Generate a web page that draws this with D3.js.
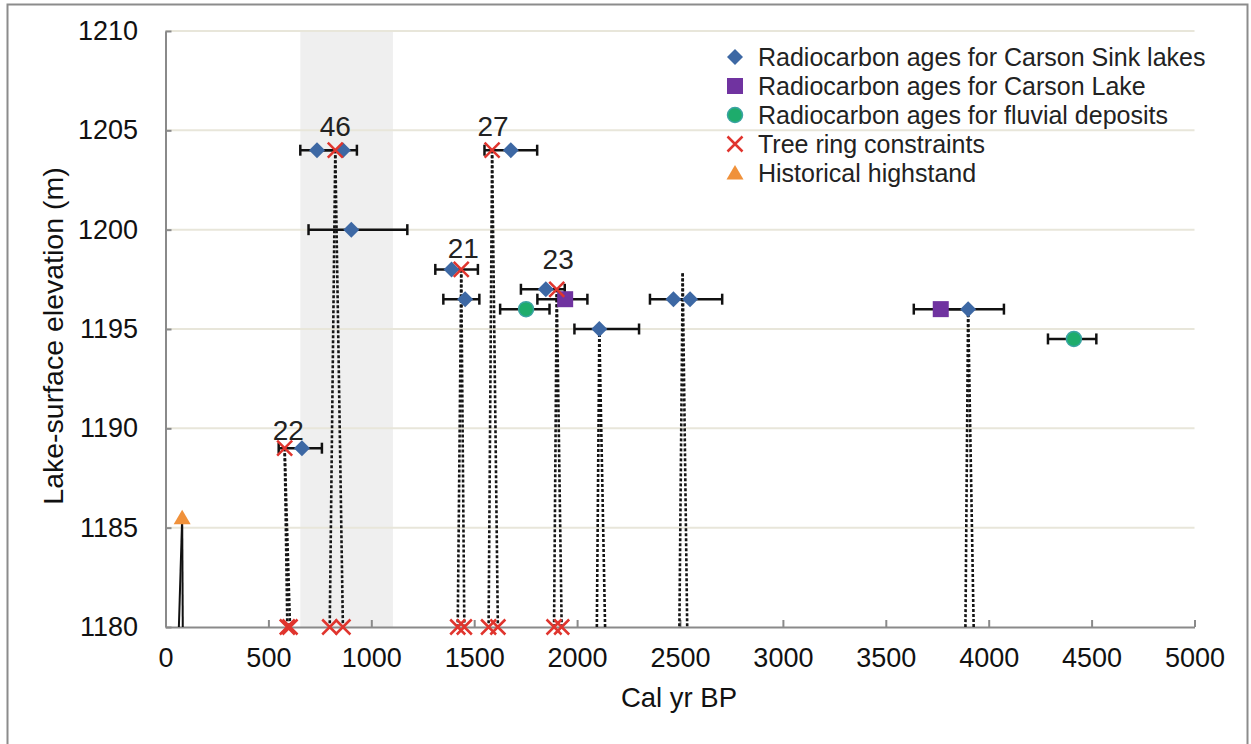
<!DOCTYPE html>
<html>
<head>
<meta charset="utf-8">
<script src="https://cdn.jsdelivr.net/npm/d3@7"></script>
<style>
  html, body { margin: 0; padding: 0; background: #fff; }
  svg { display: block; font-family: "Liberation Sans", Arial, sans-serif; }
</style>
</head>
<body>
<svg id="chart" width="1251" height="744"></svg>
<script>
// ---------------- data ----------------
const xTicks = [0, 500, 1000, 1500, 2000, 2500, 3000, 3500, 4000, 4500, 5000];
const yTicks = [1180, 1185, 1190, 1195, 1200, 1205, 1210];

// shaded interval (cal yr BP)
const bandRange = [655, 1105];

// Radiocarbon ages for Carson Sink lakes
const sinkAge  = [736, 862, 903, 663, 1390, 1456, 1678, 1848, 2108, 2468, 2549, 3900];
const sinkElev = [1204, 1204, 1200, 1189, 1198, 1196.5, 1204, 1197, 1195, 1196.5, 1196.5, 1196];
const sinkLow  = [655, 736, 695, 550, 1311, 1350, 1550, 1727, 1987, 2354, 2468, 3767];
const sinkHigh = [862, 930, 1175, 760, 1518, 1525, 1806, 1940, 2301, 2549, 2705, 4074];

// Radiocarbon ages for Carson Lake
const lakeAge  = [1942, 3767];
const lakeElev = [1196.5, 1196];
const lakeLow  = [1807, 3636];
const lakeHigh = [2050, 3900];

// Radiocarbon ages for fluvial deposits
const fluvAge  = [1752, 4414];
const fluvElev = [1196, 1194.5];
const fluvLow  = [1626, 4288];
const fluvHigh = [1866, 4523];

// Tree ring constraints (upper) and at 1180 m
const treeAge  = [579, 825, 1437, 1587, 1901];
const treeElev = [1189, 1204, 1198, 1204, 1197];
const treeBaseAge = [592, 605, 798, 862, 1420, 1452, 1570, 1615, 1888, 1925];
const baseElev = 1180;

// Dotted connection lines: top point -> two points at 1180 m
const linkTopAge  = [579, 825, 1437, 1587, 1901, 2108, 2513, 3900];
const linkTopElev = [1189, 1204, 1198, 1204, 1197, 1195, 1197.8, 1196];
const linkBotA    = [592, 798, 1420, 1570, 1888, 2096, 2497, 3887];
const linkBotB    = [605, 862, 1452, 1615, 1925, 2136, 2535, 3927];

// Historical highstand
const histAge = [81];
const histElev = [1185.5];
const histBotA = [65];
const histBotB = [84];

// Annotation labels
const labelText = ["46", "27", "21", "23", "22"];
const labelAge  = [825, 1592, 1447, 1908, 597];
const labelElev = [1205.2, 1205.2, 1199.1, 1198.5, 1189.9];

const legendLabels = [
  "Radiocarbon ages for Carson Sink lakes",
  "Radiocarbon ages for Carson Lake",
  "Radiocarbon ages for fluvial deposits",
  "Tree ring constraints",
  "Historical highstand"
];
const legendKinds = ["diamond", "square", "circle", "x", "triangle"];

// ---------------- drawing ----------------
const svg = d3.select("#chart");
const C = {
  diamond: "#3d68a4", square: "#7033a0", circle: "#1eac6c", circleStroke: "#3ba3a3",
  x: "#e0352e", triangle: "#f0913a", grid: "#e8e6da", axis: "#8a8a8a", band: "#efefef"
};

const x = d3.scaleLinear().domain([0, 5000]).range([165.5, 1194.5]);
const y = d3.scaleLinear().domain([1180, 1210]).range([627, 31]);

// outer frame
svg.append("rect").attr("x", 7.5).attr("y", 4.5).attr("width", 1240).attr("height", 780)
  .attr("fill", "none").attr("stroke", "#8c8c8c").attr("stroke-width", 2);

// band
svg.append("rect")
  .attr("x", x(bandRange[0])).attr("y", y(1210))
  .attr("width", x(bandRange[1]) - x(bandRange[0]))
  .attr("height", y(1180) - y(1210))
  .attr("fill", C.band);

// gridlines
svg.append("g").selectAll("line").data(yTicks.filter(d => d !== 1180)).join("line")
  .attr("x1", x(0)).attr("x2", x(5000))
  .attr("y1", d => y(d)).attr("y2", d => y(d))
  .attr("stroke", C.grid).attr("stroke-width", 2);

// axes
const xAxis = d3.axisBottom(x).tickValues(xTicks).tickFormat(d3.format("d"))
  .tickSizeInner(-7).tickSizeOuter(0).tickPadding(21);
const gx = svg.append("g").attr("transform", `translate(0,${y(1180)})`).call(xAxis);
const yAxis = d3.axisLeft(y).tickValues(yTicks).tickFormat(d3.format("d"))
  .tickSizeInner(-6).tickSizeOuter(0).tickPadding(27.5);
const gy = svg.append("g").attr("transform", `translate(${x(0)},0)`).call(yAxis);
[gx, gy].forEach(g => {
  g.select(".domain").attr("stroke", C.axis).attr("stroke-width", 2);
  g.selectAll(".tick line").attr("stroke", C.axis).attr("stroke-width", 2);
  g.selectAll(".tick text").attr("fill", "#111").attr("font-size", 27)
    .attr("font-family", "Liberation Sans, Arial, sans-serif");
});

// axis titles
svg.append("text").attr("x", 679).attr("y", 707).attr("text-anchor", "middle")
  .attr("font-size", 27.5).attr("fill", "#111").text("Cal yr BP");
svg.append("text").attr("transform", `translate(63,${(y(1180) + y(1210)) / 2 + 7}) rotate(-90)`)
  .attr("text-anchor", "middle").attr("font-size", 28.5).attr("fill", "#111")
  .text("Lake-surface elevation (m)");

// dotted connection lines
const links = svg.append("g").attr("fill", "none").attr("stroke", "#151515")
  .attr("stroke-width", 2.6).attr("stroke-dasharray", "3,2");
linkTopAge.forEach((a, i) => {
  [linkBotA[i], linkBotB[i]].forEach(b => {
    links.append("line")
      .attr("x1", x(a)).attr("y1", y(linkTopElev[i]))
      .attr("x2", x(b)).attr("y2", y(baseElev));
  });
});

// historical lines (solid)
histAge.forEach((a, i) => {
  [histBotA[i], histBotB[i]].forEach(b => {
    svg.append("line").attr("x1", x(a)).attr("y1", y(histElev[i]))
      .attr("x2", x(b)).attr("y2", y(baseElev))
      .attr("stroke", "#111").attr("stroke-width", 2);
  });
});

// error bars
function errorBars(lo, hi, el) {
  const g = svg.append("g").attr("stroke", "#111").attr("stroke-width", 2.5);
  lo.forEach((l, i) => {
    const yy = y(el[i]);
    g.append("line").attr("x1", x(l)).attr("x2", x(hi[i])).attr("y1", yy).attr("y2", yy);
    g.append("line").attr("x1", x(l)).attr("x2", x(l)).attr("y1", yy - 5.5).attr("y2", yy + 5.5);
    g.append("line").attr("x1", x(hi[i])).attr("x2", x(hi[i])).attr("y1", yy - 5.5).attr("y2", yy + 5.5);
  });
}
errorBars(sinkLow, sinkHigh, sinkElev);
errorBars(lakeLow, lakeHigh, lakeElev);
errorBars(fluvLow, fluvHigh, fluvElev);

// marker drawing helpers
function drawMarker(g, kind, cx, cy) {
  if (kind === "diamond") {
    g.append("path").attr("d", `M${cx},${cy - 8}L${cx + 8},${cy}L${cx},${cy + 8}L${cx - 8},${cy}Z`)
      .attr("fill", C.diamond);
  } else if (kind === "square") {
    g.append("rect").attr("x", cx - 8).attr("y", cy - 8).attr("width", 16).attr("height", 16)
      .attr("fill", C.square);
  } else if (kind === "circle") {
    g.append("circle").attr("cx", cx).attr("cy", cy).attr("r", 7.5)
      .attr("fill", C.circle).attr("stroke", C.circleStroke).attr("stroke-width", 1.5);
  } else if (kind === "x") {
    const s = 7.5;
    g.append("path").attr("d", `M${cx - s},${cy - s}L${cx + s},${cy + s}M${cx - s},${cy + s}L${cx + s},${cy - s}`)
      .attr("stroke", C.x).attr("stroke-width", 2.5).attr("fill", "none");
  } else if (kind === "triangle") {
    g.append("path").attr("d", `M${cx},${cy - 8}L${cx + 8.5},${cy + 6.5}L${cx - 8.5},${cy + 6.5}Z`)
      .attr("fill", C.triangle);
  }
}

const mk = svg.append("g");
fluvAge.forEach((a, i) => drawMarker(mk, "circle", x(a), y(fluvElev[i])));
lakeAge.forEach((a, i) => drawMarker(mk, "square", x(a), y(lakeElev[i])));
sinkAge.forEach((a, i) => drawMarker(mk, "diamond", x(a), y(sinkElev[i])));
treeAge.forEach((a, i) => drawMarker(mk, "x", x(a), y(treeElev[i])));
treeBaseAge.forEach(a => drawMarker(mk, "x", x(a), y(baseElev)));
histAge.forEach((a, i) => drawMarker(mk, "triangle", x(a), y(histElev[i])));

// labels
labelText.forEach((t, i) => {
  svg.append("text").attr("x", x(labelAge[i])).attr("y", y(labelElev[i]) + 10)
    .attr("text-anchor", "middle").attr("font-size", 28).attr("fill", "#222").text(t);
});

// legend
const lg = svg.append("g");
legendLabels.forEach((t, i) => {
  const cy = 57 + i * 29;
  drawMarker(lg, legendKinds[i], 735, cy);
  lg.append("text").attr("x", 758).attr("y", cy + 8.5).attr("font-size", 25)
    .attr("fill", "#222").text(t);
});
</script>
</body>
</html>
